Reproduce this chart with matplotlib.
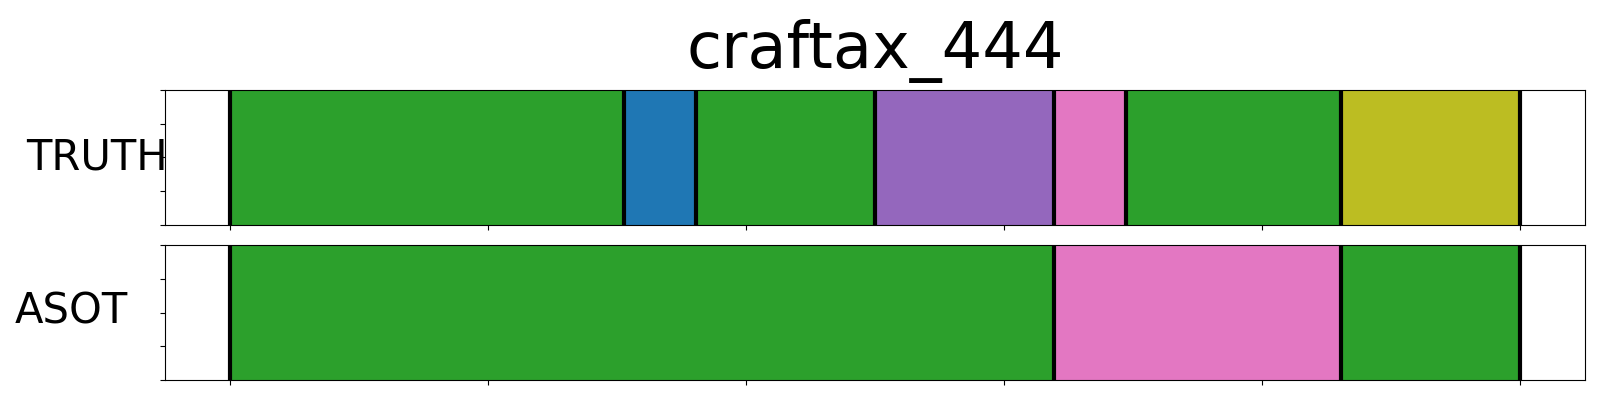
import matplotlib
matplotlib.use("Agg")
import matplotlib.pyplot as plt
import numpy as np

title = "craftax_444"
n_frames = 36

# segment boundaries (frame index) and colours for each row
truth_bounds = [0, 11, 13, 18, 23, 25, 31, 36]
truth_colors = ["#2ca02c", "#1f77b4", "#2ca02c", "#9467bd", "#e377c2", "#2ca02c", "#bcbd22"]
asot_bounds = [0, 23, 31, 36]
asot_colors = ["#2ca02c", "#e377c2", "#2ca02c"]

rows = [("TRUTH", truth_bounds, truth_colors), ("ASOT", asot_bounds, asot_colors)]


def draw_segments(ax, bounds, colors):
    for start, end, c in zip(bounds[:-1], bounds[1:], colors):
        ax.axvspan(start, end, ymin=0, ymax=1, facecolor=c, edgecolor=c, linewidth=1)
    for b in bounds:
        ax.axvline(b, color="black", linewidth=3)
    pad = 0.05 * n_frames
    ax.set_xlim(-pad, n_frames + pad)
    ax.set_ylim(0, 1)
    ax.set_xticks(np.linspace(0, n_frames, 6))
    ax.set_yticks(np.linspace(0, 1, 5))
    ax.set_xticklabels([])
    ax.set_yticklabels([])


fig = plt.figure(figsize=(16, 4), dpi=100)
ax_top = fig.add_axes([0.1034, 0.43875, 0.8872, 0.33625])
ax_bot = fig.add_axes([0.1034, 0.05, 0.8872, 0.3375])

for ax, (name, bounds, colors) in zip([ax_top, ax_bot], rows):
    draw_segments(ax, bounds, colors)

ax_top.set_title(title, fontsize=46, pad=16)

# row labels
fig.text(97 / 1600, 1 - 169 / 400, "TRUTH", fontsize=30, ha="center", va="baseline")
fig.text(71 / 1600, 1 - 323 / 400, "ASOT", fontsize=30, ha="center", va="baseline")

fig.savefig("out.png", dpi=100)
